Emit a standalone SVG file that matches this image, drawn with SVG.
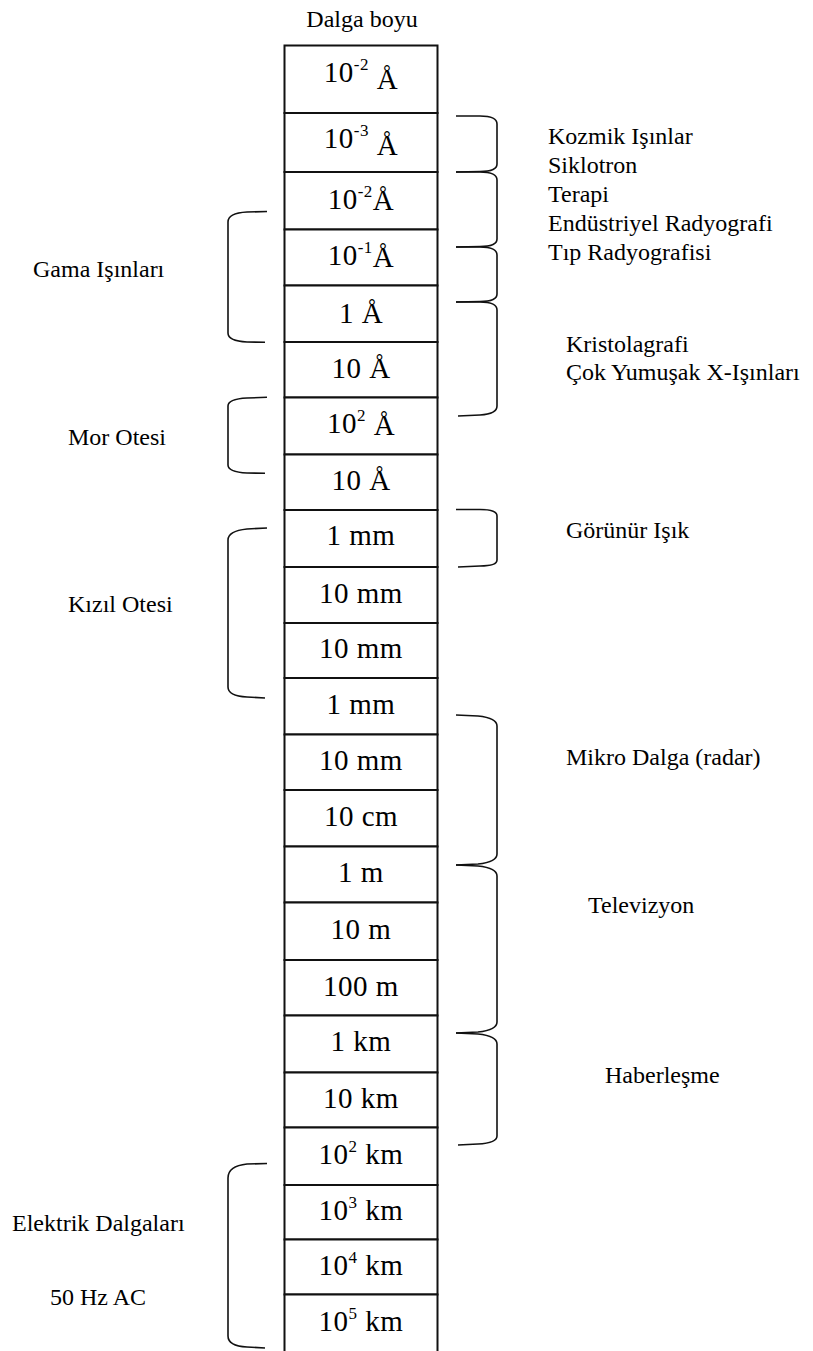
<svg xmlns="http://www.w3.org/2000/svg" width="813" height="1351" viewBox="0 0 813 1351" font-family="Liberation Serif, Times New Roman, serif">
<style>
.box{fill:#fff;stroke:#111;stroke-width:2}
.v{font-size:29px;text-anchor:middle;letter-spacing:0.5px}
.sup{font-size:17px}
.lbl{font-size:24px}
.br{fill:none;stroke:#111;stroke-width:1.6}
</style>
<rect width="813" height="1351" fill="#fff"/>
<text id="title" x="362" y="27" class="lbl" text-anchor="middle" font-family="Liberation Serif">Dalga boyu</text>

<g id="n1"><rect class="box" x="284.5" y="45.5" width="153" height="67.5"/><text class="v" x="361" y="82">10<tspan class="sup" dy="-12">-2</tspan><tspan dy="19"> Å</tspan></text></g>
<g id="n2"><rect class="box" x="284.5" y="113" width="153" height="59"/><text class="v" x="361" y="148">10<tspan class="sup" dy="-12">-3</tspan><tspan dy="19"> Å</tspan></text></g>
<g id="n3"><rect class="box" x="284.5" y="172" width="153" height="57.5"/><text class="v" x="361" y="209">10<tspan class="sup" dy="-12">-2</tspan><tspan dy="13">Å</tspan></text></g>
<g id="n4"><rect class="box" x="284.5" y="229.5" width="153" height="56"/><text class="v" x="361" y="265">10<tspan class="sup" dy="-12">-1</tspan><tspan dy="14">Å</tspan></text></g>
<g id="n5"><rect class="box" x="284.5" y="285.5" width="153" height="56.5"/><text class="v" x="361" y="323">1 Å</text></g>
<g id="n6"><rect class="box" x="284.5" y="342" width="153" height="55.5"/><text class="v" x="361" y="378">10 Å</text></g>
<g id="n7"><rect class="box" x="284.5" y="397.5" width="153" height="57"/><text class="v" x="361" y="433">10<tspan class="sup" dy="-12">2</tspan><tspan dy="14"> Å</tspan></text></g>
<g id="n8"><rect class="box" x="284.5" y="454.5" width="153" height="55.5"/><text class="v" x="361" y="490">10 Å</text></g>
<g id="n9"><rect class="box" x="284.5" y="510" width="153" height="57"/><text class="v" x="361" y="545">1 mm</text></g>
<g id="n10"><rect class="box" x="284.5" y="567" width="153" height="56"/><text class="v" x="361" y="603">10 mm</text></g>
<g id="n11"><rect class="box" x="284.5" y="623" width="153" height="55"/><text class="v" x="361" y="658">10 mm</text></g>
<g id="n12"><rect class="box" x="284.5" y="678" width="153" height="56.5"/><text class="v" x="361" y="714">1 mm</text></g>
<g id="n13"><rect class="box" x="284.5" y="734.5" width="153" height="55.5"/><text class="v" x="361" y="770">10 mm</text></g>
<g id="n14"><rect class="box" x="284.5" y="790" width="153" height="56.5"/><text class="v" x="361" y="826">10 cm</text></g>
<g id="n15"><rect class="box" x="284.5" y="846.5" width="153" height="56"/><text class="v" x="361" y="882">1 m</text></g>
<g id="n16"><rect class="box" x="284.5" y="902.5" width="153" height="57.5"/><text class="v" x="361" y="939">10 m</text></g>
<g id="n17"><rect class="box" x="284.5" y="960" width="153" height="55.5"/><text class="v" x="361" y="996">100 m</text></g>
<g id="n18"><rect class="box" x="284.5" y="1015.5" width="153" height="57"/><text class="v" x="361" y="1051">1 km</text></g>
<g id="n19"><rect class="box" x="284.5" y="1072.5" width="153" height="55"/><text class="v" x="361" y="1108">10 km</text></g>
<g id="n20"><rect class="box" x="284.5" y="1127.5" width="153" height="57.5"/><text class="v" x="361" y="1164">10<tspan class="sup" dy="-12">2</tspan><tspan dy="12"> km</tspan></text></g>
<g id="n21"><rect class="box" x="284.5" y="1185" width="153" height="54.5"/><text class="v" x="361" y="1220">10<tspan class="sup" dy="-12">3</tspan><tspan dy="12"> km</tspan></text></g>
<g id="n22"><rect class="box" x="284.5" y="1239.5" width="153" height="55"/><text class="v" x="361" y="1275">10<tspan class="sup" dy="-12">4</tspan><tspan dy="12"> km</tspan></text></g>
<g id="n23"><rect class="box" x="284.5" y="1294.5" width="153" height="60"/><text class="v" x="361" y="1331">10<tspan class="sup" dy="-12">5</tspan><tspan dy="12"> km</tspan></text></g>

<g id="connectors">
<path class="br" d="M456,116 L480,116 Q497,116 497,124 L497,164 Q497,171.5 480,171.5 L456,172"/>
<path class="br" d="M456,172 L480,172 Q497,172 497,180 L497,239 Q497,246.5 480,246.5 L456,247"/>
<path class="br" d="M456,247 L480,247 Q497,247 497,255 L497,294 Q497,301.5 480,301.5 L456,302"/>
<path class="br" d="M456,302 L480,302 Q497,302 497,310 L497,406 Q497,414 480,415 L458,416"/>
<path class="br" d="M456,509.5 L480,509.5 Q497,509.5 497,516 L497,560 Q497,566 480,566 L458,567"/>
<path class="br" d="M456,715 L478,716 Q497,718 497,726 L497,854 Q497,862 478,864 L456,865"/>
<path class="br" d="M456,865 L478,866 Q497,868 497,876 L497,1022 Q497,1030 478,1032 L456,1033"/>
<path class="br" d="M456,1033 L478,1034 Q497,1036 497,1044 L497,1136 Q497,1143 478,1144 L458,1145"/>
<path class="br" d="M267,211.5 L247,212 Q228,213 228,222 L228,333 Q228,341 247,342 L265,342.3"/>
<path class="br" d="M267,397.3 L247,398 Q228,399 228,406 L228,465 Q228,472 247,473 L265,473.3"/>
<path class="br" d="M267,528 L247,529 Q228,531 228,540 L228,687 Q228,696 247,697 L265,698"/>
<path class="br" d="M267,1163.5 L247,1164 Q228,1166 228,1178 L228,1336 Q228,1346 247,1347 L265,1348"/>
</g>

<g id="labels">
<text class="lbl" x="33" y="277">Gama Işınları</text>
<text class="lbl" x="68" y="445">Mor Otesi</text>
<text class="lbl" x="68" y="612">Kızıl Otesi</text>
<text class="lbl" x="12" y="1231">Elektrik Dalgaları</text>
<text class="lbl" x="50" y="1305">50 Hz AC</text>
<text class="lbl" x="548" y="144">Kozmik Işınlar</text>
<text class="lbl" x="548" y="173">Siklotron</text>
<text class="lbl" x="548" y="202">Terapi</text>
<text class="lbl" x="548" y="231">Endüstriyel Radyografi</text>
<text class="lbl" x="548" y="260">Tıp Radyografisi</text>
<text class="lbl" x="566" y="352">Kristolagrafi</text>
<text class="lbl" x="566" y="380">Çok Yumuşak X-Işınları</text>
<text class="lbl" x="566" y="538">Görünür Işık</text>
<text class="lbl" x="566" y="765">Mikro Dalga (radar)</text>
<text class="lbl" x="588" y="913">Televizyon</text>
<text class="lbl" x="605" y="1083">Haberleşme</text>
</g>
</svg>
